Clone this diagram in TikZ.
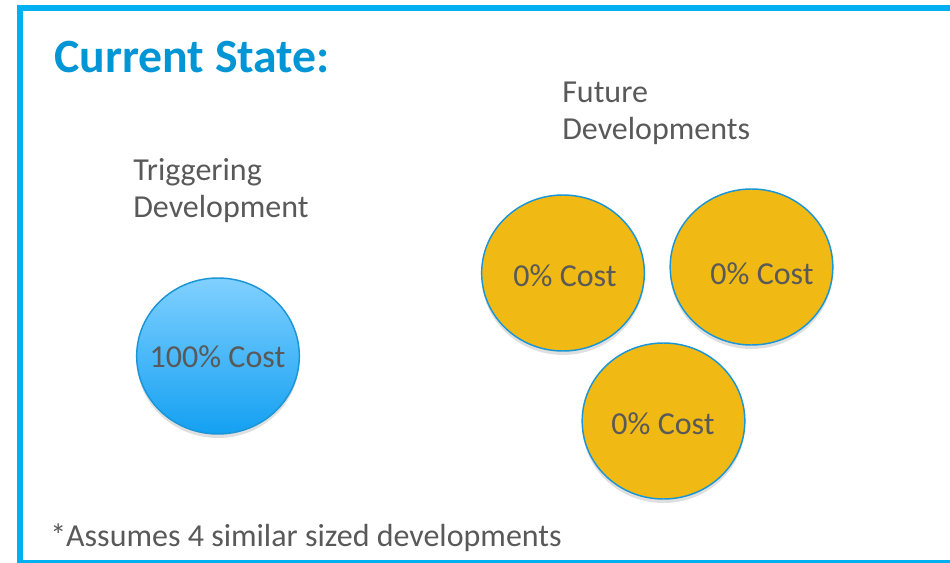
\documentclass[tikz,border=0pt]{standalone}
\usepackage{fontspec}
\setmainfont{Carlito}
\usetikzlibrary{shapes.geometric,shadows}
\definecolor{frameblue}{RGB}{0,176,240}
\definecolor{titleblue}{RGB}{0,150,214}
\definecolor{textgray}{RGB}{89,89,89}
\definecolor{coinyellow}{RGB}{240,185,20}
\definecolor{rimblue}{RGB}{26,150,214}
\definecolor{skytop}{RGB}{128,208,255}
\definecolor{skybottom}{RGB}{20,160,242}
\begin{document}
\begin{tikzpicture}[x=0.75pt,y=-0.75pt,
		coin/.style={ellipse, draw=rimblue, line width=1.1pt, minimum width=122pt, minimum height=117pt, inner sep=0pt,
			drop shadow={shadow xshift=0pt, shadow yshift=-3pt, opacity=0.25}},
		cost/.style={text=textgray, font=\fontsize{24}{27}\selectfont, inner sep=0pt},
		caption/.style={text=textgray, font=\fontsize{24}{27.5}\selectfont, align=left, inner sep=0pt, anchor=base west}]
	\useasboundingbox (0,0) rectangle (950,563);
	% frame
	\draw[frameblue, line width=4.5pt] (19.5,8) rectangle (965,563);
	\node[anchor=base west, inner sep=0pt, text=titleblue, font=\fontsize{35.8}{40}\selectfont\bfseries] (title) at (54,73) {Current State:};
	% labels (base = last line)
	\node[caption] (trigcap) at (133,217.5) {Triggering\\Development};
	\node[caption] (futcap) at (562,139.5) {Future\\Developments};
	% circles
	\node[coin, top color=skytop, bottom color=skybottom] (trig) at (218,356) {};
	\node[coin, fill=coinyellow] (futA) at (563,273) {};
	\node[coin, fill=coinyellow] (futB) at (751.5,267) {};
	\node[coin, fill=coinyellow] (futC) at (663.5,421) {};
	\node[cost] (trigcost) at (217.5,356.5) {100\% Cost};
	\node[cost] (costA) at (565,275.5) {0\% Cost};
	\node[cost] (costB) at (762,274) {0\% Cost};
	\node[cost] (costC) at (663,424) {0\% Cost};
	% footnote
	\node[caption] (note) at (50,546) {*Assumes 4 similar sized developments};
\end{tikzpicture}
\end{document}
